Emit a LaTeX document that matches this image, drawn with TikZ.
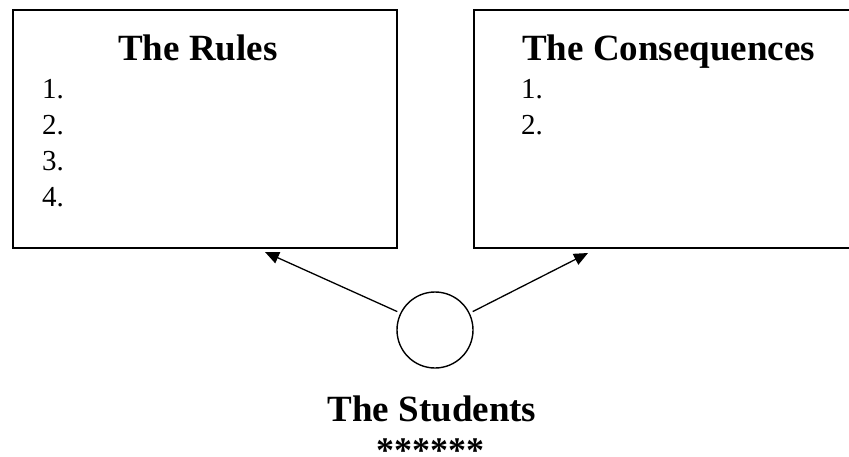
\documentclass[tikz,border=0pt]{standalone}
\usepackage{fontspec}
\setmainfont{Liberation Serif}
\usetikzlibrary{arrows.meta}
\begin{document}
\begin{tikzpicture}[x=1pt,y=-1pt,
  boxline/.style={draw=black,line width=1.4pt},
  title/.style={anchor=base west,inner sep=0pt,font=\fontsize{37}{44}\selectfont\bfseries},
  item/.style={anchor=base west,inner sep=0pt,font=\fontsize{29}{34}\selectfont},
  conn/.style={draw=black,line width=1.3pt,-{Triangle[length=14pt,width=12pt]}}]
\clip (0,0) rectangle (849,456);
\fill[white] (0,0) rectangle (849,456);
% boxes
\draw[boxline] (13,10) rectangle (397,248);
\draw[boxline] (474,10) rectangle (862,248);
% left box text
\node[title] (rt) at (118,60) {The Rules};
\node[item] (r1) at (42,98) {1.};
\node[item] (r2) at (42,134) {2.};
\node[item] (r3) at (42,170.5) {3.};
\node[item] (r4) at (42,206.5) {4.};
% right box text
\node[title] (ct) at (522,60) {The Consequences};
\node[item] (c1) at (521,98) {1.};
\node[item] (c2) at (521,134) {2.};
% circle
\node[draw=black,line width=1.4pt,circle,minimum size=76pt,inner sep=0pt,outer sep=4pt] (st) at (435,330) {};
\coordinate (tl) at (265,252);
\coordinate (tr) at (588,253);
\draw[conn] (st.154) -- (tl);
\draw[conn] (st.26) -- (tr);
% students label
\node[anchor=base,inner sep=0pt,font=\fontsize{37}{44}\selectfont\bfseries] (sl) at (432,421.5) {The Students};
\node[anchor=base,inner sep=0pt,text depth=0pt,font=\fontsize{36}{42}\selectfont\bfseries] (ast) at (430,462) {******};
\end{tikzpicture}
\end{document}
